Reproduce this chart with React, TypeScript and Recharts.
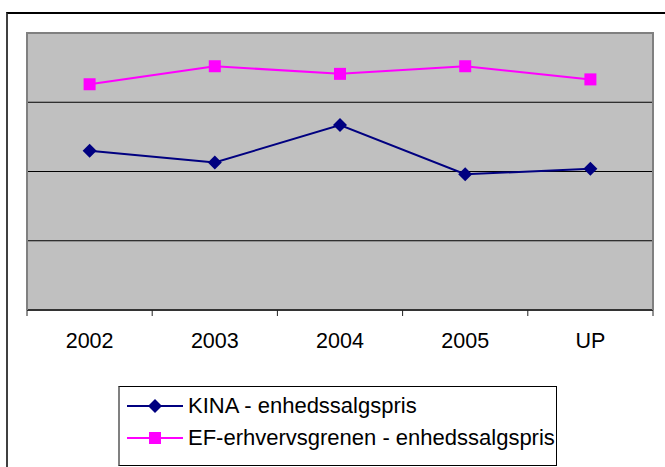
import { LineChart, Line, XAxis, YAxis, CartesianGrid } from "recharts"

const years = ["2002", "2003", "2004", "2005", "UP"]
const kinaPrice = [2.3, 2.13, 2.67, 1.96, 2.04]
const efPrice = [3.26, 3.52, 3.41, 3.52, 3.33]
const yTicks = [0, 1, 2, 3, 4]

const series = [
  { key: "kina", name: "KINA - enhedssalgspris", color: "#000080", values: kinaPrice },
  { key: "ef", name: "EF-erhvervsgrenen - enhedssalgspris", color: "#FF00FF", values: efPrice },
]

const data = years.map((year, i) => ({ year, kina: kinaPrice[i], ef: efPrice[i] }))

const W = 665
const H = 467
const axisH = 30
const plotTop = 33
const plotBottom = 310
const margin = { top: plotTop, left: 27, right: 12, bottom: H - plotBottom - axisH }
const plotW = W - margin.left - margin.right
const plotH = plotBottom - plotTop
const halfBand = plotW / years.length / 2
const font = "'Liberation Sans', Arial, sans-serif"

const Diamond = (props: any) => {
  const { cx, cy } = props
  if (cx == null || cy == null) return null
  return <path d={`M${cx},${cy - 7}L${cx + 7},${cy}L${cx},${cy + 7}L${cx - 7},${cy}Z`} fill="#000080" />
}

const Square = (props: any) => {
  const { cx, cy } = props
  if (cx == null || cy == null) return null
  return <rect x={cx - 6} y={cy - 6} width={12} height={12} fill="#FF00FF" />
}

const YearTick = (props: any) => {
  const { x, y, payload, index } = props
  return (
    <g>
      <line x1={x - halfBand} x2={x - halfBand} y1={y} y2={y + 6} stroke="#222" />
      {index === years.length - 1 && <line x1={x + halfBand} x2={x + halfBand} y1={y} y2={y + 6} stroke="#222" />}
      <text x={x} y={y + 38} textAnchor="middle" fontSize={21.5} fontFamily={font} fill="#000">
        {payload.value}
      </text>
    </g>
  )
}

export default function App() {
  return (
    <div style={{ position: "absolute", left: 0, top: 0, width: W, height: H, background: "#fff" }}>
      <div
        style={{
          position: "absolute",
          left: 6,
          top: 12,
          width: W - 6,
          height: H - 12,
          borderTop: "2px solid #000",
          borderLeft: "2px solid #404040",
          boxSizing: "border-box",
        }}
      />
      <LineChart width={W} height={H} data={data} margin={margin} style={{ position: "absolute", left: 0, top: 0 }}>
        <CartesianGrid vertical={false} fill="#C0C0C0" stroke="#000" strokeWidth={1} />
        <XAxis
          dataKey="year"
          height={axisH}
          padding={{ left: halfBand, right: halfBand }}
          axisLine={{ stroke: "#333", strokeWidth: 2 }}
          tickLine={false}
          tickSize={0}
          tickMargin={0}
          tick={<YearTick />}
          interval={0}
        />
        <YAxis hide domain={[0, 4]} ticks={yTicks} />
        <Line
          dataKey="kina"
          name={series[0].name}
          stroke={series[0].color}
          strokeWidth={2}
          dot={<Diamond />}
          activeDot={false}
          isAnimationActive={false}
        />
        <Line
          dataKey="ef"
          name={series[1].name}
          stroke={series[1].color}
          strokeWidth={2}
          dot={<Square />}
          activeDot={false}
          isAnimationActive={false}
        />
      </LineChart>
      {/* plot frame */}
      <div
        style={{
          position: "absolute",
          left: margin.left - 1,
          top: margin.top - 1,
          width: plotW + 2,
          height: plotH + 1,
          borderTop: "2px solid #808080",
          borderLeft: "2px solid #808080",
          borderRight: "2px solid #808080",
          boxSizing: "border-box",
          pointerEvents: "none",
        }}
      />
      {/* legend */}
      <div
        style={{
          position: "absolute",
          left: 118,
          top: 386,
          width: 439,
          height: 80,
          borderTop: "1px solid #000",
          borderRight: "1px solid #000",
          borderBottom: "1px solid #000",
          borderLeft: "2px solid #808080",
          boxSizing: "border-box",
          paddingTop: 3,
          fontFamily: font,
          fontSize: 22,
        }}
      >
        {series.map((s) => (
          <div key={s.key} style={{ display: "flex", alignItems: "center", height: 32, paddingLeft: 7 }}>
            <svg width={58} height={14} style={{ flex: "none" }}>
              <line x1={0} x2={56} y1={7} y2={7} stroke={s.color} strokeWidth={2} />
              {s.key === "kina" ? (
                <path d="M28,0L35,7L28,14L21,7Z" fill={s.color} />
              ) : (
                <rect x={22} y={1} width={12} height={12} fill={s.color} />
              )}
            </svg>
            <span style={{ marginLeft: 3, whiteSpace: "nowrap" }}>{s.name}</span>
          </div>
        ))}
      </div>
    </div>
  )
}
